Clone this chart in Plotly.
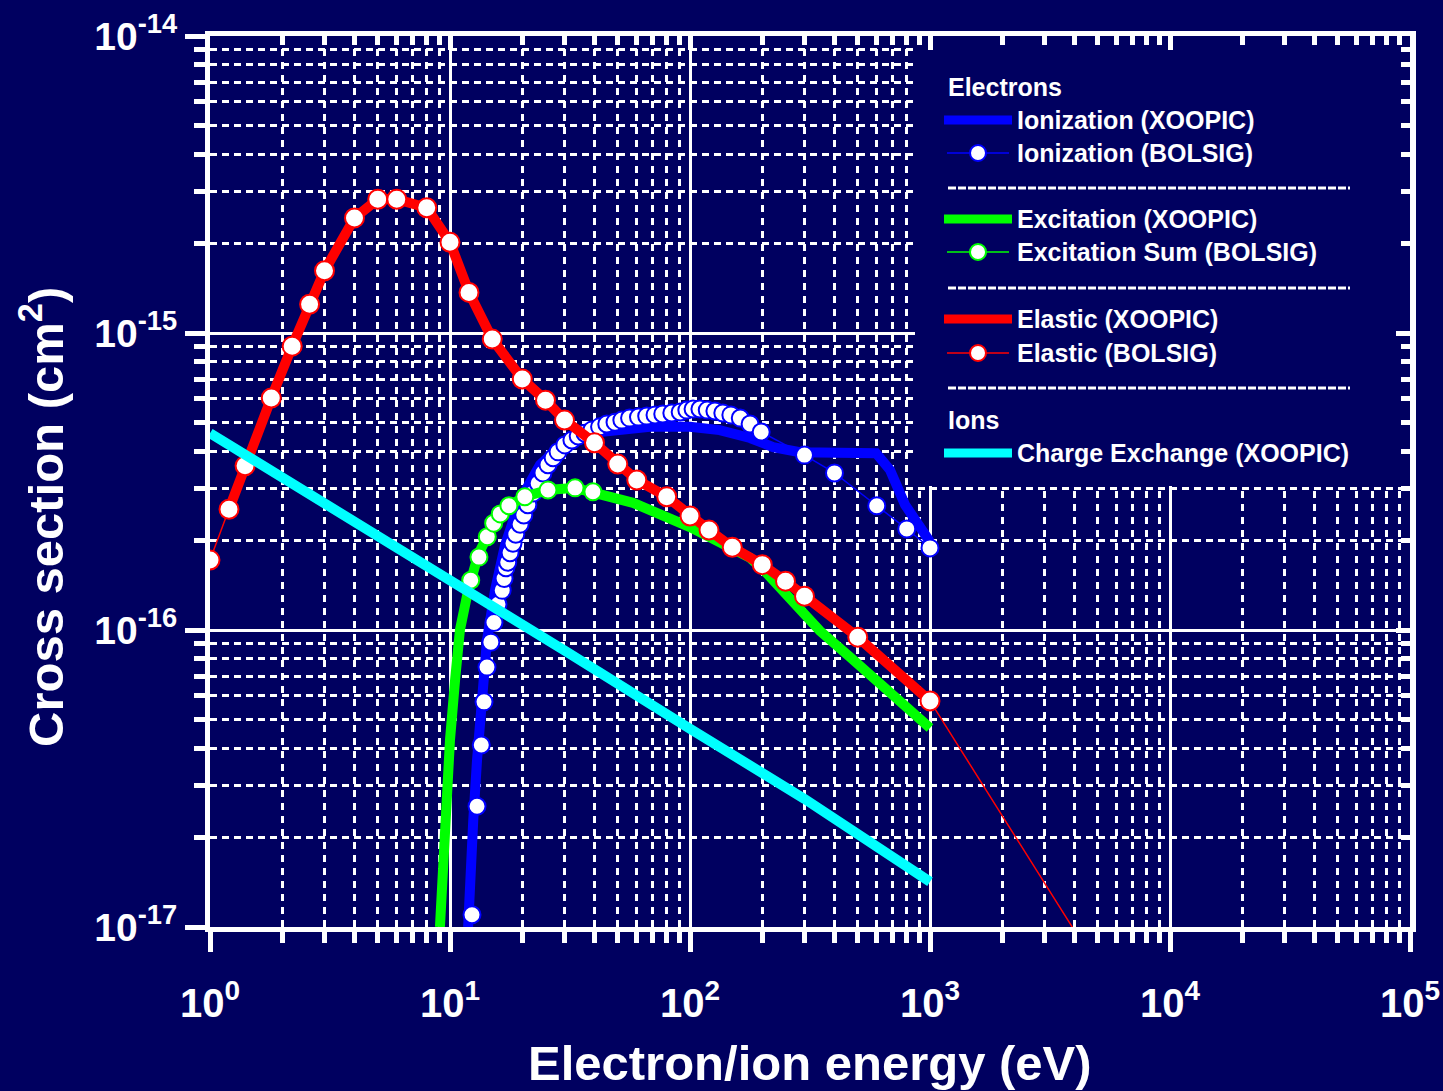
import plotly.graph_objects as go

# ---------------- data ----------------
# Ionization, XOOPIC model (thick line)
ion_xoopic_e = [11.9, 12.1, 12.5, 12.96, 13.47, 14.26, 15.4, 16.96, 19.6, 23.7, 30.1, 42.2, 68, 100,
                133, 178, 222, 287, 596, 681, 787, 1000]
ion_xoopic_s = [1.0e-17, 1.44e-17, 2.29e-17, 3.65e-17, 5.8e-17, 9.25e-17, 1.36e-16, 1.93e-16, 2.74e-16,
                3.6e-16, 4.3e-16, 4.64e-16, 4.83e-16, 4.83e-16, 4.71e-16, 4.43e-16, 4.13e-16, 3.97e-16,
                3.94e-16, 3.46e-16, 2.64e-16, 1.98e-16]

# Ionization, BOLSIG (markers)
ion_bolsig_e = [12.35, 12.96, 13.5, 13.86, 14.26, 14.8, 15.25, 15.85, 16.5, 16.8, 17.1, 17.4, 17.8, 18.3,
                18.8, 19.6, 20.3, 21.1, 22.2, 23.3, 24.4, 25.6, 26.9, 28.2, 30.1, 32.2, 34.2, 36.5, 39,
                42, 45, 48.7, 52, 56, 61, 66, 71.5, 77, 84, 91, 97, 103, 110, 118, 127, 137, 148, 162,
                178, 198, 300, 400, 600, 800, 1000]
ion_bolsig_s = [1.1e-17, 2.55e-17, 4.1e-17, 5.73e-17, 7.5e-17, 9.1e-17, 1.06e-16, 1.22e-16, 1.36e-16,
                1.49e-16, 1.62e-16, 1.69e-16, 1.82e-16, 1.96e-16, 2.1e-16, 2.27e-16, 2.44e-16, 2.64e-16,
                2.89e-16, 3.12e-16, 3.38e-16, 3.6e-16, 3.8e-16, 3.98e-16, 4.2e-16, 4.36e-16, 4.5e-16,
                4.6e-16, 4.71e-16, 4.83e-16, 4.94e-16, 5.01e-16, 5.09e-16, 5.17e-16, 5.21e-16, 5.25e-16,
                5.3e-16, 5.34e-16, 5.38e-16, 5.42e-16, 5.5e-16, 5.55e-16, 5.55e-16, 5.5e-16, 5.46e-16,
                5.38e-16, 5.3e-16, 5.17e-16, 4.94e-16, 4.64e-16, 3.88e-16, 3.38e-16, 2.62e-16, 2.19e-16,
                1.89e-16]

# Excitation, XOOPIC model (thick line)
exc_xoopic_e = [9.08, 9.35, 9.62, 10.0, 10.5, 11.0, 11.9, 13.1, 15.2, 17.6, 20.5, 25.6, 33.2, 39.4,
                57.9, 100, 151, 178, 209, 249, 296, 348, 464, 681, 1000]
exc_xoopic_s = [1.0e-17, 1.56e-17, 2.68e-17, 4.27e-17, 6.79e-17, 1.0e-16, 1.36e-16, 1.79e-16, 2.29e-16,
                2.62e-16, 2.81e-16, 2.96e-16, 3.01e-16, 2.92e-16, 2.68e-16, 2.22e-16, 1.9e-16, 1.75e-16,
                1.55e-16, 1.33e-16, 1.13e-16, 9.93e-17, 8.11e-17, 6.14e-17, 4.68e-17]

# Excitation sum, BOLSIG (markers)
exc_bolsig_e = [12.2, 13.2, 14.3, 15.2, 16.2, 17.6, 20.5, 25.6, 33.2, 39.4]
exc_bolsig_s = [1.47e-16, 1.76e-16, 2.06e-16, 2.29e-16, 2.46e-16, 2.62e-16, 2.81e-16, 2.96e-16,
                3.01e-16, 2.92e-16]

# Elastic, XOOPIC model (thick line)
ela_xoopic_e = [1.2, 1.4, 1.8, 2.2, 2.6, 3, 4, 5, 6, 8, 10, 12, 15, 20, 25, 30, 40, 50, 60, 80, 100,
                120, 150, 200, 250, 300, 500, 1000]
ela_xoopic_s = [2.55e-16, 3.57e-16, 6.04e-16, 9.03e-16, 1.25e-15, 1.62e-15, 2.44e-15, 2.82e-15,
                2.82e-15, 2.64e-15, 2.02e-15, 1.37e-15, 9.54e-16, 7.0e-16, 5.94e-16, 5.09e-16, 4.27e-16,
                3.62e-16, 3.2e-16, 2.81e-16, 2.42e-16, 2.17e-16, 1.9e-16, 1.66e-16, 1.46e-16, 1.3e-16,
                9.46e-17, 5.77e-17]

# Elastic, BOLSIG (markers up to 1 keV, thin line beyond)
ela_bolsig_e = [1, 1.2, 1.4, 1.8, 2.2, 2.6, 3, 4, 5, 6, 8, 10, 12, 15, 20, 25, 30, 40, 50, 60, 80, 100,
                120, 150, 200, 250, 300, 500, 1000, 2000, 3000, 5000]
ela_bolsig_s = [1.72e-16, 2.55e-16, 3.57e-16, 6.04e-16, 9.03e-16, 1.25e-15, 1.62e-15, 2.44e-15,
                2.82e-15, 2.82e-15, 2.64e-15, 2.02e-15, 1.37e-15, 9.54e-16, 7.0e-16, 5.94e-16, 5.09e-16,
                4.27e-16, 3.62e-16, 3.2e-16, 2.81e-16, 2.42e-16, 2.17e-16, 1.9e-16, 1.66e-16, 1.46e-16,
                1.3e-16, 9.46e-17, 5.77e-17, 2.37e-17, 1.42e-17, 7.3e-18]
ela_bolsig_marked = [e <= 1000 for e in ela_bolsig_e]

# Ions: charge exchange, XOOPIC model
cx_e = [1, 3, 10, 30, 100, 300, 1000]
cx_s = [4.6e-16, 2.68e-16, 1.49e-16, 8.53e-17, 4.65e-17, 2.7e-17, 1.42e-17]

# axis ticks
x_major = [1, 10, 100, 1e3, 1e4, 1e5]
x_major_text = ["10<sup>0</sup>", "10<sup>1</sup>", "10<sup>2</sup>", "10<sup>3</sup>",
                "10<sup>4</sup>", "10<sup>5</sup>"]
y_major = [1e-17, 1e-16, 1e-15, 1e-14]
y_major_text = ["10<sup>-17</sup>", "10<sup>-16</sup>", "10<sup>-15</sup>", "10<sup>-14</sup>"]
x_minor = [m * 10 ** k for k in range(0, 5) for m in range(2, 10)]
y_minor = [m * 10.0 ** k for k in range(-17, -14) for m in range(2, 10)]

# legend entries: (label, colour, kind)
legend_rows = [
    ("Ionization (XOOPIC)", "#0000FF", "thick"),
    ("Ionization (BOLSIG)", "#0000FF", "marker"),
    ("Excitation (XOOPIC)", "#00FF00", "thick"),
    ("Excitation Sum (BOLSIG)", "#00FF00", "marker"),
    ("Elastic (XOOPIC)", "#FF0000", "thick"),
    ("Elastic (BOLSIG)", "#FF0000", "marker"),
    ("Charge Exchange (XOOPIC)", "#00FFFF", "thick"),
]

# ---------------- style ----------------
BG = "#000060"
FONT = "Liberation Sans, Arial, sans-serif"
W, H = 1443, 1091
L, R, T, B = 210, 33, 36, 164
PW, PH = W - L - R, H - T - B
X_RANGE, Y_RANGE = (0, 5), (-17, -14)


def px(xp):
    """pixel column -> paper fraction"""
    return (xp - L) / PW


def py(yp):
    """pixel row -> paper fraction"""
    return (H - B - yp) / PH


def dx(xp):
    """pixel column -> energy value on the log x axis"""
    return 10 ** (X_RANGE[0] + (X_RANGE[1] - X_RANGE[0]) * px(xp))


def dy(yp):
    """pixel row -> cross-section value on the log y axis"""
    return 10 ** (Y_RANGE[0] + (Y_RANGE[1] - Y_RANGE[0]) * py(yp))


fig = go.Figure()


def thick(x, y, color, name):
    fig.add_trace(go.Scatter(x=x, y=y, mode="lines", name=name, showlegend=False,
                             line=dict(color=color, width=10)))


def marked(x, y, color, name, size=16, opacity=None):
    fig.add_trace(go.Scatter(x=x, y=y, mode="lines+markers", name=name, showlegend=False,
                             line=dict(color=color, width=1.5),
                             marker=dict(symbol="circle", size=size, color="white",
                                         opacity=opacity, line=dict(color=color, width=2))))


thick(ion_xoopic_e, ion_xoopic_s, "#0000FF", "Ionization (XOOPIC)")
marked(ion_bolsig_e, ion_bolsig_s, "#0000FF", "Ionization (BOLSIG)", size=17)
thick(exc_xoopic_e, exc_xoopic_s, "#00FF00", "Excitation (XOOPIC)")
marked(exc_bolsig_e, exc_bolsig_s, "#00FF00", "Excitation Sum (BOLSIG)", size=17)
thick(ela_xoopic_e, ela_xoopic_s, "#FF0000", "Elastic (XOOPIC)")
marked(ela_bolsig_e, ela_bolsig_s, "#FF0000", "Elastic (BOLSIG)", size=19,
       opacity=[1 if m else 0 for m in ela_bolsig_marked])
thick(cx_e, cx_s, "#00FFFF", "Charge Exchange (XOOPIC)")

# empty trace that carries the mirrored top/right frame axes
fig.add_trace(go.Scatter(x=[None], y=[None], xaxis="x2", yaxis="y2", showlegend=False,
                         hoverinfo="skip"))

axis_common = dict(type="log", automargin=False, showline=True, linecolor="white", linewidth=5,
                   ticks="outside", tickcolor="white", tickwidth=5, ticklen=20,
                   showgrid=True, gridcolor="white", gridwidth=3, zeroline=False)

fig.update_layout(
    width=W, height=H,
    margin=dict(l=L, r=R, t=T, b=B, pad=0, autoexpand=False),
    paper_bgcolor=BG, plot_bgcolor=BG,
    showlegend=False,
    xaxis=dict(range=list(X_RANGE), tickmode="array", tickvals=x_major, ticktext=x_major_text,
               ticklabelstandoff=17,
               tickfont=dict(family=FONT, size=40, color="white", weight="bold"),
               minor=dict(tickmode="array", tickvals=x_minor, ticks="outside", ticklen=11,
                          tickwidth=5, tickcolor="white", showgrid=True, gridcolor="white",
                          gridwidth=3, griddash="7px,6px"),
               **axis_common),
    yaxis=dict(range=list(Y_RANGE), tickmode="array", tickvals=y_major, ticktext=y_major_text,
               tickfont=dict(family=FONT, size=39, color="white", weight="bold"),
               minor=dict(tickmode="array", tickvals=y_minor, ticks="outside", ticklen=11,
                          tickwidth=5, tickcolor="white", showgrid=True, gridcolor="white",
                          gridwidth=3, griddash="7px,5px"),
               **axis_common),
    xaxis2=dict(type="log", range=list(X_RANGE), overlaying="x", side="top", anchor="y2",
                automargin=False,
                showline=True, linecolor="white", linewidth=5, showgrid=False, zeroline=False,
                tickmode="array", tickvals=x_major, ticks="inside", ticklen=14, tickwidth=5,
                tickcolor="white", showticklabels=False,
                minor=dict(tickmode="array", tickvals=x_minor, ticks="inside", ticklen=9,
                           tickwidth=5, tickcolor="white", showgrid=False)),
    yaxis2=dict(type="log", range=list(Y_RANGE), overlaying="y", side="right", anchor="x2",
                automargin=False,
                showline=True, linecolor="white", linewidth=6, showgrid=False, zeroline=False,
                tickmode="array", tickvals=y_major, ticks="inside", ticklen=14, tickwidth=5,
                tickcolor="white", showticklabels=False,
                minor=dict(tickmode="array", tickvals=y_minor, ticks="inside", ticklen=9,
                           tickwidth=5, tickcolor="white", showgrid=False)),
)

title_font = dict(family=FONT, size=49, color="white", weight="bold")
fig.add_annotation(text="Electron/ion energy (eV)", xref="paper", yref="paper",
                   x=px(810), y=py(1063), xanchor="center", yanchor="middle",
                   showarrow=False, font=title_font)
fig.add_annotation(text="Cross section (cm<sup>2</sup>)", xref="paper", yref="paper",
                   x=px(42), y=py(517), xanchor="center", yanchor="middle", textangle=-90,
                   showarrow=False, font=title_font)

# ---------------- legend panel ----------------
# background panel sits between the grid and the traces, so it hides the grid only
fig.add_shape(type="rect", xref="x", yref="y", layer="between",
              x0=dx(915), x1=dx(1403), y0=dy(486), y1=dy(40),
              fillcolor=BG, line=dict(width=0))

leg_font = dict(family=FONT, size=25, color="white", weight="bold")
row_y = [120, 153, 219, 252, 319, 353, 453]
for (label, color, kind), yy in zip(legend_rows, row_y):
    if kind == "thick":
        fig.add_shape(type="line", xref="paper", yref="paper", x0=px(944), x1=px(1012),
                      y0=py(yy), y1=py(yy), line=dict(color=color, width=9))
    else:
        fig.add_shape(type="line", xref="paper", yref="paper", x0=px(947), x1=px(1009),
                      y0=py(yy), y1=py(yy), line=dict(color=color, width=1.5))
        fig.add_shape(type="circle", xref="paper", yref="paper", xsizemode="pixel",
                      ysizemode="pixel", xanchor=px(978), yanchor=py(yy), x0=-8, x1=8,
                      y0=-8, y1=8, fillcolor="white", line=dict(color=color, width=2))
    fig.add_annotation(text=label, xref="paper", yref="paper", x=px(1015), y=py(yy),
                       xanchor="left", yanchor="middle", showarrow=False, font=leg_font)

for head, yy in [("Electrons", 87), ("Ions", 420)]:
    fig.add_annotation(text=head, xref="paper", yref="paper", x=px(946), y=py(yy),
                       xanchor="left", yanchor="middle", showarrow=False, font=leg_font)

for yy in [188, 288, 388]:
    fig.add_shape(type="line", xref="paper", yref="paper", x0=px(948), x1=px(1350),
                  y0=py(yy), y1=py(yy), line=dict(color="white", width=3, dash="8px,2px"))

fig.write_html("out.html")
